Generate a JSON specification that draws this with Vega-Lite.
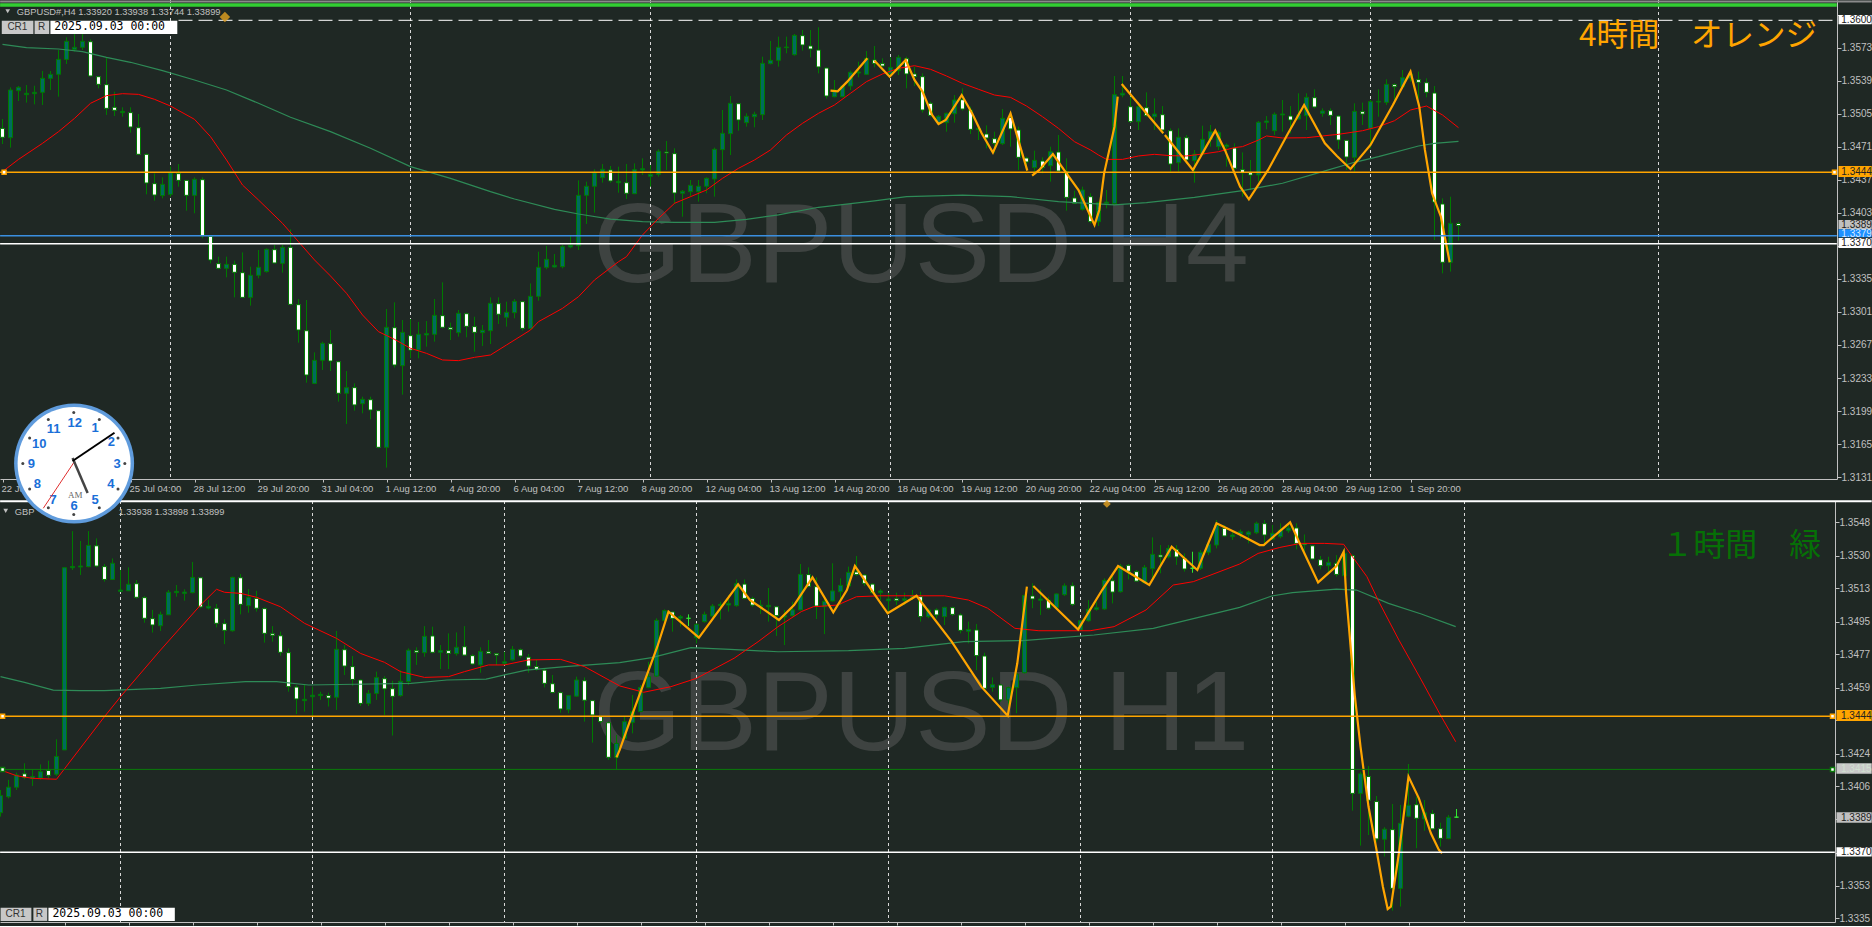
{"$schema":"https://vega.github.io/schema/vega-lite/v6.json","padding":{"left":-3,"top":-1,"right":0,"bottom":0},"background":"#1f2824","bounds":"flush","spacing":22,
"config":{"view":{"stroke":null},"axis":{"title":null,"grid":false,"domainColor":"#c0c0c0","tickColor":"#c0c0c0","labelColor":"#c0c0c0","labelFont":"Liberation Sans","labelFontSize":10,"labelOverlap":false,"labelBound":false,"labelFlush":false}},
"datasets":{
"c4":[
{"i":0,"o":1.34899,"h":1.34995,"l":1.34738,"c":1.34807},{"i":1,"o":1.34803,"h":1.35321,"l":1.34701,"c":1.35294},{"i":2,"o":1.35287,"h":1.35335,"l":1.35181,"c":1.35321},{"i":3,"o":1.35246,"h":1.35345,"l":1.35164,"c":1.3526},{"i":4,"o":1.35256,"h":1.35338,"l":1.35146,"c":1.3527},{"i":5,"o":1.3527,"h":1.35489,"l":1.3514,"c":1.35414},{"i":6,"o":1.35414,"h":1.35489,"l":1.35294,"c":1.35455},{"i":7,"o":1.35455,"h":1.35705,"l":1.35225,"c":1.35609},{"i":8,"o":1.35609,"h":1.35836,"l":1.35561,"c":1.35795},{"i":9,"o":1.35712,"h":1.35877,"l":1.35688,"c":1.35733},{"i":10,"o":1.35733,"h":1.35894,"l":1.35705,"c":1.35795},
{"i":11,"o":1.35791,"h":1.35815,"l":1.35431,"c":1.35438},{"i":12,"o":1.35431,"h":1.35431,"l":1.35311,"c":1.35352},{"i":13,"o":1.35349,"h":1.3563,"l":1.35037,"c":1.35105},{"i":14,"o":1.35116,"h":1.35277,"l":1.35026,"c":1.35085},{"i":15,"o":1.35061,"h":1.35116,"l":1.35019,"c":1.35074},{"i":16,"o":1.35061,"h":1.35116,"l":1.34855,"c":1.34913},{"i":17,"o":1.34906,"h":1.35047,"l":1.34625,"c":1.34632},{"i":18,"o":1.34632,"h":1.34642,"l":1.3422,"c":1.34337},{"i":19,"o":1.3433,"h":1.34436,"l":1.34155,"c":1.34213},{"i":20,"o":1.34207,"h":1.34395,"l":1.34179,"c":1.34323},
{"i":21,"o":1.3422,"h":1.34505,"l":1.34196,"c":1.34443},{"i":22,"o":1.34433,"h":1.34532,"l":1.34299,"c":1.34364},{"i":23,"o":1.34364,"h":1.34364,"l":1.34052,"c":1.3421},{"i":24,"o":1.3421,"h":1.34395,"l":1.34025,"c":1.34375},{"i":25,"o":1.34371,"h":1.34395,"l":1.33768,"c":1.33795},{"i":26,"o":1.33788,"h":1.33795,"l":1.3351,"c":1.33545},{"i":27,"o":1.33507,"h":1.33579,"l":1.33449,"c":1.33459},{"i":28,"o":1.33459,"h":1.33579,"l":1.33366,"c":1.335},{"i":29,"o":1.335,"h":1.33538,"l":1.3316,"c":1.33418},{"i":30,"o":1.33414,"h":1.33623,"l":1.33157,"c":1.3316},
{"i":31,"o":1.3316,"h":1.33476,"l":1.33075,"c":1.33387},{"i":32,"o":1.33387,"h":1.33647,"l":1.33356,"c":1.33469},{"i":33,"o":1.33425,"h":1.33665,"l":1.33414,"c":1.33654},{"i":34,"o":1.33651,"h":1.33699,"l":1.3351,"c":1.33514},{"i":35,"o":1.3351,"h":1.33699,"l":1.33414,"c":1.33675},{"i":36,"o":1.33675,"h":1.3386,"l":1.33078,"c":1.33088},{"i":37,"o":1.33085,"h":1.33143,"l":1.32694,"c":1.32824},{"i":38,"o":1.32817,"h":1.33133,"l":1.32282,"c":1.32361},{"i":39,"o":1.32275,"h":1.32594,"l":1.32269,"c":1.32512},{"i":40,"o":1.32512,"h":1.32704,"l":1.32413,"c":1.32687},
{"i":41,"o":1.32684,"h":1.32824,"l":1.32402,"c":1.32505},{"i":42,"o":1.32498,"h":1.32505,"l":1.32087,"c":1.32173},{"i":43,"o":1.32173,"h":1.32402,"l":1.31857,"c":1.32231},{"i":44,"o":1.32231,"h":1.32275,"l":1.31994,"c":1.32053},{"i":45,"o":1.32066,"h":1.32138,"l":1.31967,"c":1.32111},{"i":46,"o":1.32107,"h":1.32138,"l":1.31905,"c":1.32001},{"i":47,"o":1.31994,"h":1.32001,"l":1.31607,"c":1.31617},{"i":48,"o":1.31617,"h":1.3304,"l":1.31408,"c":1.32852},{"i":49,"o":1.32848,"h":1.33109,"l":1.32437,"c":1.32464},{"i":50,"o":1.32457,"h":1.32927,"l":1.32159,"c":1.328},
{"i":51,"o":1.32766,"h":1.32937,"l":1.32533,"c":1.32618},{"i":52,"o":1.32618,"h":1.32907,"l":1.32533,"c":1.3278},{"i":53,"o":1.32773,"h":1.32917,"l":1.32653,"c":1.32787},{"i":54,"o":1.3278,"h":1.33143,"l":1.32704,"c":1.32975},{"i":55,"o":1.32972,"h":1.33315,"l":1.32841,"c":1.32852},{"i":56,"o":1.32848,"h":1.329,"l":1.32721,"c":1.32831},{"i":57,"o":1.32797,"h":1.3303,"l":1.32756,"c":1.32996},{"i":58,"o":1.32992,"h":1.33003,"l":1.32749,"c":1.32862},{"i":59,"o":1.32859,"h":1.32961,"l":1.32601,"c":1.328},{"i":60,"o":1.32797,"h":1.32876,"l":1.3266,"c":1.32821},
{"i":61,"o":1.32817,"h":1.3316,"l":1.3268,"c":1.33099},{"i":62,"o":1.33095,"h":1.3316,"l":1.32886,"c":1.32986},{"i":63,"o":1.32955,"h":1.33116,"l":1.32859,"c":1.33006},{"i":64,"o":1.33003,"h":1.33143,"l":1.32944,"c":1.33119},{"i":65,"o":1.33116,"h":1.33123,"l":1.32817,"c":1.32841},{"i":66,"o":1.32841,"h":1.33304,"l":1.32824,"c":1.33171},{"i":67,"o":1.33171,"h":1.3363,"l":1.33126,"c":1.33469},{"i":68,"o":1.33469,"h":1.33689,"l":1.33449,"c":1.33551},{"i":69,"o":1.33473,"h":1.33606,"l":1.33466,"c":1.3349},{"i":70,"o":1.33476,"h":1.33699,"l":1.33459,"c":1.33682},
{"i":71,"o":1.33678,"h":1.33792,"l":1.33665,"c":1.33696},{"i":72,"o":1.33692,"h":1.34364,"l":1.33647,"c":1.3421},{"i":73,"o":1.3421,"h":1.34351,"l":1.33915,"c":1.34303},{"i":74,"o":1.34303,"h":1.34478,"l":1.34032,"c":1.34443},{"i":75,"o":1.34392,"h":1.34532,"l":1.3434,"c":1.34478},{"i":76,"o":1.34471,"h":1.34512,"l":1.3434,"c":1.34358},{"i":77,"o":1.3434,"h":1.34505,"l":1.34237,"c":1.34354},{"i":78,"o":1.3434,"h":1.34532,"l":1.34172,"c":1.34231},{"i":79,"o":1.34227,"h":1.34539,"l":1.34224,"c":1.34474},{"i":80,"o":1.34471,"h":1.34591,"l":1.34419,"c":1.34484},
{"i":81,"o":1.34406,"h":1.34522,"l":1.34299,"c":1.34426},{"i":82,"o":1.34426,"h":1.34683,"l":1.34402,"c":1.34663},{"i":83,"o":1.34656,"h":1.34769,"l":1.34471,"c":1.34646},{"i":84,"o":1.34639,"h":1.34694,"l":1.34121,"c":1.34234},{"i":85,"o":1.34231,"h":1.34265,"l":1.3399,"c":1.34251},{"i":86,"o":1.34248,"h":1.34368,"l":1.34196,"c":1.34313},{"i":87,"o":1.34248,"h":1.34368,"l":1.34145,"c":1.34303},{"i":88,"o":1.34303,"h":1.34395,"l":1.34231,"c":1.34385},{"i":89,"o":1.34378,"h":1.34701,"l":1.34196,"c":1.34683},{"i":90,"o":1.3468,"h":1.35088,"l":1.34464,"c":1.34848},
{"i":91,"o":1.34845,"h":1.35232,"l":1.34625,"c":1.35157},{"i":92,"o":1.35153,"h":1.35157,"l":1.34875,"c":1.34985},{"i":93,"o":1.34958,"h":1.35054,"l":1.34917,"c":1.35023},{"i":94,"o":1.35019,"h":1.35071,"l":1.3491,"c":1.35044},{"i":95,"o":1.3504,"h":1.35637,"l":1.34985,"c":1.35568},{"i":96,"o":1.35565,"h":1.35798,"l":1.35558,"c":1.35599},{"i":97,"o":1.35599,"h":1.35843,"l":1.35534,"c":1.35733},{"i":98,"o":1.3573,"h":1.35843,"l":1.35671,"c":1.35736},{"i":99,"o":1.35657,"h":1.3587,"l":1.35647,"c":1.35856},{"i":100,"o":1.35853,"h":1.35911,"l":1.35699,"c":1.35757},
{"i":101,"o":1.35747,"h":1.35911,"l":1.3563,"c":1.35716},{"i":102,"o":1.35705,"h":1.35939,"l":1.35465,"c":1.35531},{"i":103,"o":1.3552,"h":1.35524,"l":1.35205,"c":1.35232},{"i":104,"o":1.35225,"h":1.35397,"l":1.35218,"c":1.35294},{"i":105,"o":1.35225,"h":1.35345,"l":1.35218,"c":1.35335},{"i":106,"o":1.35335,"h":1.35493,"l":1.35294,"c":1.35476},{"i":107,"o":1.35469,"h":1.35585,"l":1.35424,"c":1.35479},{"i":108,"o":1.35455,"h":1.35695,"l":1.35448,"c":1.3562},{"i":109,"o":1.35603,"h":1.35747,"l":1.35527,"c":1.35568},{"i":110,"o":1.35565,"h":1.3562,"l":1.35534,"c":1.35541},
{"i":111,"o":1.35459,"h":1.3563,"l":1.35424,"c":1.35527},{"i":112,"o":1.35493,"h":1.35654,"l":1.35448,"c":1.3563},{"i":113,"o":1.35616,"h":1.35637,"l":1.35311,"c":1.35459},{"i":114,"o":1.35459,"h":1.35534,"l":1.35335,"c":1.35431},{"i":115,"o":1.35431,"h":1.35465,"l":1.35061,"c":1.35088},{"i":116,"o":1.35157,"h":1.35174,"l":1.35019,"c":1.35033},{"i":117,"o":1.34958,"h":1.35037,"l":1.34934,"c":1.35023},{"i":118,"o":1.34958,"h":1.35061,"l":1.34865,"c":1.35054},{"i":119,"o":1.3505,"h":1.35242,"l":1.34958,"c":1.35191},{"i":120,"o":1.35194,"h":1.35311,"l":1.35081,"c":1.35098},
{"i":121,"o":1.35088,"h":1.35122,"l":1.34841,"c":1.34889},{"i":122,"o":1.34886,"h":1.34934,"l":1.34779,"c":1.34899},{"i":123,"o":1.34841,"h":1.3493,"l":1.34694,"c":1.348},{"i":124,"o":1.34793,"h":1.34865,"l":1.34649,"c":1.34745},{"i":125,"o":1.34742,"h":1.35098,"l":1.34728,"c":1.35002},{"i":126,"o":1.35013,"h":1.35054,"l":1.34711,"c":1.34893},{"i":127,"o":1.34882,"h":1.34917,"l":1.34471,"c":1.34601},{"i":128,"o":1.34594,"h":1.34608,"l":1.34464,"c":1.34553},{"i":129,"o":1.34495,"h":1.3467,"l":1.34443,"c":1.3457},{"i":130,"o":1.34563,"h":1.34601,"l":1.34436,"c":1.34495},
{"i":131,"o":1.34515,"h":1.34711,"l":1.34351,"c":1.34659},{"i":132,"o":1.34656,"h":1.34831,"l":1.34454,"c":1.3446},{"i":133,"o":1.34454,"h":1.34591,"l":1.34052,"c":1.34189},{"i":134,"o":1.34183,"h":1.34258,"l":1.34121,"c":1.34128},{"i":135,"o":1.34066,"h":1.34299,"l":1.34052,"c":1.34265},{"i":136,"o":1.34196,"h":1.34231,"l":1.33922,"c":1.33939},{"i":137,"o":1.33939,"h":1.34145,"l":1.33894,"c":1.34135},{"i":138,"o":1.34128,"h":1.34265,"l":1.34076,"c":1.34141},{"i":139,"o":1.34124,"h":1.35438,"l":1.34111,"c":1.35246},{"i":140,"o":1.35242,"h":1.35438,"l":1.35218,"c":1.3526},
{"i":141,"o":1.35122,"h":1.35225,"l":1.34958,"c":1.34968},{"i":142,"o":1.34968,"h":1.3514,"l":1.34882,"c":1.35122},{"i":143,"o":1.35112,"h":1.3527,"l":1.35019,"c":1.3503},{"i":144,"o":1.35019,"h":1.35208,"l":1.34882,"c":1.35047},{"i":145,"o":1.3504,"h":1.35129,"l":1.34848,"c":1.34882},{"i":146,"o":1.34875,"h":1.34899,"l":1.34454,"c":1.34532},{"i":147,"o":1.34546,"h":1.34899,"l":1.34454,"c":1.34807},{"i":148,"o":1.34803,"h":1.34831,"l":1.34539,"c":1.34574},{"i":149,"o":1.34567,"h":1.34676,"l":1.3434,"c":1.34635},{"i":150,"o":1.34632,"h":1.34927,"l":1.34625,"c":1.34786},
{"i":151,"o":1.34786,"h":1.34934,"l":1.34711,"c":1.34865},{"i":152,"o":1.34711,"h":1.34875,"l":1.34676,"c":1.34855},{"i":153,"o":1.34711,"h":1.34745,"l":1.34505,"c":1.34728},{"i":154,"o":1.34697,"h":1.34745,"l":1.34471,"c":1.34488},{"i":155,"o":1.34474,"h":1.34652,"l":1.34196,"c":1.34443},{"i":156,"o":1.34443,"h":1.34574,"l":1.34265,"c":1.34419},{"i":157,"o":1.34419,"h":1.34975,"l":1.34351,"c":1.34961},{"i":158,"o":1.34961,"h":1.35026,"l":1.34889,"c":1.34975},{"i":159,"o":1.34875,"h":1.35064,"l":1.34831,"c":1.35044},{"i":160,"o":1.35037,"h":1.35191,"l":1.34865,"c":1.35047},
{"i":161,"o":1.35026,"h":1.35129,"l":1.34848,"c":1.34985},{"i":162,"o":1.34995,"h":1.3526,"l":1.34992,"c":1.35037},{"i":163,"o":1.3503,"h":1.3526,"l":1.34882,"c":1.35218},{"i":164,"o":1.35215,"h":1.35301,"l":1.35105,"c":1.35119},{"i":165,"o":1.35054,"h":1.35105,"l":1.35019,"c":1.35078},{"i":166,"o":1.35081,"h":1.35105,"l":1.34934,"c":1.35033},{"i":167,"o":1.35026,"h":1.35037,"l":1.34687,"c":1.34779},{"i":168,"o":1.34776,"h":1.34779,"l":1.34471,"c":1.34604},{"i":169,"o":1.34601,"h":1.35157,"l":1.34454,"c":1.35074},{"i":170,"o":1.35071,"h":1.35164,"l":1.34934,"c":1.35047},
{"i":171,"o":1.34899,"h":1.35191,"l":1.34694,"c":1.35174},{"i":172,"o":1.3517,"h":1.35301,"l":1.35019,"c":1.35177},{"i":173,"o":1.35167,"h":1.35404,"l":1.3514,"c":1.35352},{"i":174,"o":1.35349,"h":1.35362,"l":1.35157,"c":1.35328},{"i":175,"o":1.35328,"h":1.355,"l":1.35311,"c":1.35421},{"i":176,"o":1.35414,"h":1.35493,"l":1.3538,"c":1.35459},{"i":177,"o":1.354,"h":1.35483,"l":1.35208,"c":1.35373},{"i":178,"o":1.35369,"h":1.35414,"l":1.35218,"c":1.3527},{"i":179,"o":1.35263,"h":1.35335,"l":1.3375,"c":1.34141},{"i":180,"o":1.34121,"h":1.34179,"l":1.33407,"c":1.33521},
{"i":181,"o":1.33521,"h":1.34196,"l":1.33425,"c":1.33922},{"i":182,"o":1.3392,"h":1.33938,"l":1.33744,"c":1.33899}
],
"c1":[
{"i":0,"o":1.33923,"h":1.34045,"l":1.33902,"c":1.34015},{"i":1,"o":1.34009,"h":1.341,"l":1.34,"c":1.3406},{"i":2,"o":1.3406,"h":1.34139,"l":1.34045,"c":1.34126},{"i":3,"o":1.34132,"h":1.34189,"l":1.34103,"c":1.34114},{"i":4,"o":1.34107,"h":1.34157,"l":1.34067,"c":1.34118},{"i":5,"o":1.34109,"h":1.34183,"l":1.341,"c":1.34144},{"i":6,"o":1.3415,"h":1.34203,"l":1.34109,"c":1.34124},{"i":7,"o":1.3413,"h":1.34318,"l":1.34121,"c":1.34225},{"i":8,"o":1.34261,"h":1.35241,"l":1.34261,"c":1.35241},{"i":9,"o":1.35241,"h":1.35438,"l":1.35229,"c":1.35248},{"i":10,"o":1.35245,"h":1.35385,"l":1.35202,"c":1.3525},
{"i":11,"o":1.35247,"h":1.35438,"l":1.35243,"c":1.35361},{"i":12,"o":1.35359,"h":1.35399,"l":1.35243,"c":1.3525},{"i":13,"o":1.35247,"h":1.35261,"l":1.35166,"c":1.35178},{"i":14,"o":1.35178,"h":1.35291,"l":1.35175,"c":1.35265},{"i":15,"o":1.35114,"h":1.35229,"l":1.35112,"c":1.35121},{"i":16,"o":1.35117,"h":1.35243,"l":1.35116,"c":1.35152},{"i":17,"o":1.35155,"h":1.35175,"l":1.35074,"c":1.35082},{"i":18,"o":1.3508,"h":1.35089,"l":1.34945,"c":1.34969},{"i":19,"o":1.34967,"h":1.35014,"l":1.34892,"c":1.34933},{"i":20,"o":1.34929,"h":1.35005,"l":1.34901,"c":1.3499},
{"i":21,"o":1.34988,"h":1.35121,"l":1.34987,"c":1.35109},{"i":22,"o":1.35107,"h":1.35148,"l":1.35085,"c":1.35114},{"i":23,"o":1.35103,"h":1.35125,"l":1.35064,"c":1.3511},{"i":24,"o":1.35107,"h":1.35272,"l":1.35103,"c":1.35189},{"i":25,"o":1.35187,"h":1.35189,"l":1.35023,"c":1.3503},{"i":26,"o":1.35024,"h":1.35067,"l":1.35017,"c":1.35033},{"i":27,"o":1.35023,"h":1.35046,"l":1.3492,"c":1.34942},{"i":28,"o":1.3494,"h":1.34963,"l":1.3483,"c":1.34904},{"i":29,"o":1.34902,"h":1.35193,"l":1.34897,"c":1.35189},{"i":30,"o":1.35187,"h":1.35207,"l":1.3499,"c":1.35044},
{"i":31,"o":1.35037,"h":1.35126,"l":1.34999,"c":1.35082},{"i":32,"o":1.35076,"h":1.35117,"l":1.35005,"c":1.35023},{"i":33,"o":1.35021,"h":1.35028,"l":1.34838,"c":1.34888},{"i":34,"o":1.34886,"h":1.34927,"l":1.34843,"c":1.34877},{"i":35,"o":1.34875,"h":1.34897,"l":1.34768,"c":1.34786},{"i":36,"o":1.34784,"h":1.34807,"l":1.34574,"c":1.34601},{"i":37,"o":1.34599,"h":1.3461,"l":1.34454,"c":1.34535},{"i":38,"o":1.34526,"h":1.34614,"l":1.34467,"c":1.34533},{"i":39,"o":1.34547,"h":1.34601,"l":1.3444,"c":1.34555},{"i":40,"o":1.34553,"h":1.34574,"l":1.3453,"c":1.3456},
{"i":41,"o":1.34553,"h":1.34569,"l":1.34494,"c":1.3454},{"i":42,"o":1.34544,"h":1.34901,"l":1.34476,"c":1.34802},{"i":43,"o":1.348,"h":1.34825,"l":1.34664,"c":1.34712},{"i":44,"o":1.34709,"h":1.34766,"l":1.34605,"c":1.3464},{"i":45,"o":1.34637,"h":1.3464,"l":1.34497,"c":1.34511},{"i":46,"o":1.34511,"h":1.34583,"l":1.34497,"c":1.34565},{"i":47,"o":1.34565,"h":1.34682,"l":1.3453,"c":1.3465},{"i":48,"o":1.34644,"h":1.34658,"l":1.34449,"c":1.34589},{"i":49,"o":1.3459,"h":1.34633,"l":1.34338,"c":1.34549},{"i":50,"o":1.34553,"h":1.3469,"l":1.34547,"c":1.3463},
{"i":51,"o":1.34628,"h":1.34807,"l":1.3461,"c":1.34797},{"i":52,"o":1.34795,"h":1.34813,"l":1.34718,"c":1.34786},{"i":53,"o":1.34784,"h":1.34927,"l":1.34762,"c":1.34872},{"i":54,"o":1.34874,"h":1.34924,"l":1.3478,"c":1.34786},{"i":55,"o":1.34786,"h":1.34825,"l":1.34696,"c":1.34795},{"i":56,"o":1.34795,"h":1.34888,"l":1.34696,"c":1.3478},{"i":57,"o":1.34779,"h":1.34893,"l":1.34768,"c":1.34813},{"i":58,"o":1.34816,"h":1.34927,"l":1.34766,"c":1.34771},{"i":59,"o":1.34768,"h":1.34777,"l":1.34718,"c":1.34723},{"i":60,"o":1.34718,"h":1.34813,"l":1.34676,"c":1.34791},
{"i":61,"o":1.34789,"h":1.34852,"l":1.34777,"c":1.3478},{"i":62,"o":1.34779,"h":1.3478,"l":1.34718,"c":1.34771},{"i":63,"o":1.34727,"h":1.34789,"l":1.34718,"c":1.34735},{"i":64,"o":1.34745,"h":1.3482,"l":1.3474,"c":1.34802},{"i":65,"o":1.348,"h":1.34807,"l":1.34754,"c":1.34766},{"i":66,"o":1.3476,"h":1.34777,"l":1.34676,"c":1.34712},{"i":67,"o":1.34709,"h":1.34745,"l":1.34687,"c":1.34694},{"i":68,"o":1.3469,"h":1.347,"l":1.34597,"c":1.34619},{"i":69,"o":1.34617,"h":1.34664,"l":1.34565,"c":1.3457},{"i":70,"o":1.34569,"h":1.34574,"l":1.34461,"c":1.34481},
{"i":71,"o":1.34477,"h":1.34556,"l":1.34458,"c":1.34553},{"i":72,"o":1.3455,"h":1.34655,"l":1.34547,"c":1.34637},{"i":73,"o":1.34633,"h":1.34651,"l":1.34413,"c":1.34528},{"i":74,"o":1.34526,"h":1.3453,"l":1.343,"c":1.34449},{"i":75,"o":1.3444,"h":1.34447,"l":1.34404,"c":1.34413},{"i":76,"o":1.34407,"h":1.34413,"l":1.34207,"c":1.34221},{"i":77,"o":1.34221,"h":1.34341,"l":1.34157,"c":1.34296},{"i":78,"o":1.34323,"h":1.3444,"l":1.34314,"c":1.34413},{"i":79,"o":1.34409,"h":1.34556,"l":1.3435,"c":1.34467},{"i":80,"o":1.34467,"h":1.3461,"l":1.34467,"c":1.34597},
{"i":81,"o":1.34597,"h":1.34735,"l":1.34592,"c":1.34655},{"i":82,"o":1.34658,"h":1.34969,"l":1.34655,"c":1.34958},{"i":83,"o":1.34956,"h":1.35017,"l":1.34953,"c":1.3501},{"i":84,"o":1.35003,"h":1.35005,"l":1.34897,"c":1.34969},{"i":85,"o":1.3497,"h":1.34987,"l":1.34924,"c":1.34978},{"i":86,"o":1.34969,"h":1.3499,"l":1.34927,"c":1.34969},{"i":87,"o":1.34865,"h":1.34942,"l":1.34834,"c":1.34936},{"i":88,"o":1.34951,"h":1.35005,"l":1.34945,"c":1.3499},{"i":89,"o":1.34981,"h":1.35046,"l":1.34978,"c":1.35035},{"i":90,"o":1.35037,"h":1.35058,"l":1.34963,"c":1.35044},
{"i":91,"o":1.3504,"h":1.35094,"l":1.35005,"c":1.35049},{"i":92,"o":1.35037,"h":1.35178,"l":1.35031,"c":1.35155},{"i":93,"o":1.35153,"h":1.35178,"l":1.35071,"c":1.35076},{"i":94,"o":1.35076,"h":1.35085,"l":1.35031,"c":1.3504},{"i":95,"o":1.35033,"h":1.35067,"l":1.34992,"c":1.3504},{"i":96,"o":1.35031,"h":1.35132,"l":1.34951,"c":1.35039},{"i":97,"o":1.35031,"h":1.35035,"l":1.34874,"c":1.34983},{"i":98,"o":1.34976,"h":1.35014,"l":1.34825,"c":1.34983},{"i":99,"o":1.34983,"h":1.35058,"l":1.34978,"c":1.35014},{"i":100,"o":1.35014,"h":1.35261,"l":1.3501,"c":1.35205},
{"i":101,"o":1.35204,"h":1.35243,"l":1.35135,"c":1.35141},{"i":102,"o":1.35139,"h":1.35189,"l":1.34965,"c":1.35035},{"i":103,"o":1.35031,"h":1.35085,"l":1.34884,"c":1.3506},{"i":104,"o":1.35062,"h":1.35265,"l":1.35058,"c":1.35116},{"i":105,"o":1.35112,"h":1.35184,"l":1.3504,"c":1.35146},{"i":106,"o":1.35143,"h":1.35247,"l":1.35135,"c":1.35216},{"i":107,"o":1.35218,"h":1.35304,"l":1.35196,"c":1.35204},{"i":108,"o":1.35202,"h":1.35207,"l":1.35143,"c":1.35157},{"i":109,"o":1.35153,"h":1.35157,"l":1.351,"c":1.35107},{"i":110,"o":1.35107,"h":1.35125,"l":1.35067,"c":1.35116},
{"i":111,"o":1.35064,"h":1.35107,"l":1.34992,"c":1.35073},{"i":112,"o":1.35074,"h":1.35107,"l":1.3504,"c":1.35064},{"i":113,"o":1.35066,"h":1.35107,"l":1.3504,"c":1.35074},{"i":114,"o":1.35082,"h":1.35121,"l":1.35067,"c":1.35092},{"i":115,"o":1.35085,"h":1.35112,"l":1.34951,"c":1.34978},{"i":116,"o":1.34978,"h":1.35023,"l":1.34969,"c":1.35014},{"i":117,"o":1.35014,"h":1.35023,"l":1.34969,"c":1.34987},{"i":118,"o":1.34978,"h":1.35031,"l":1.34933,"c":1.35028},{"i":119,"o":1.35026,"h":1.35031,"l":1.34981,"c":1.3499},{"i":120,"o":1.34987,"h":1.34996,"l":1.34888,"c":1.34904},
{"i":121,"o":1.34899,"h":1.34951,"l":1.34834,"c":1.34909},{"i":122,"o":1.34906,"h":1.34938,"l":1.3469,"c":1.34768},{"i":123,"o":1.34766,"h":1.34784,"l":1.34583,"c":1.34592},{"i":124,"o":1.34597,"h":1.34651,"l":1.34574,"c":1.34612},{"i":125,"o":1.3461,"h":1.34615,"l":1.3452,"c":1.3453},{"i":126,"o":1.3453,"h":1.34601,"l":1.3444,"c":1.34596},{"i":127,"o":1.34596,"h":1.34718,"l":1.34458,"c":1.34669},{"i":128,"o":1.34676,"h":1.35094,"l":1.34673,"c":1.35092},{"i":129,"o":1.35089,"h":1.35157,"l":1.35023,"c":1.35073},{"i":130,"o":1.35066,"h":1.35125,"l":1.34987,"c":1.35073},
{"i":131,"o":1.35067,"h":1.35085,"l":1.35014,"c":1.35023},{"i":132,"o":1.35026,"h":1.35103,"l":1.35023,"c":1.351},{"i":133,"o":1.35096,"h":1.35157,"l":1.35089,"c":1.35144},{"i":134,"o":1.35144,"h":1.35162,"l":1.35035,"c":1.35044},{"i":135,"o":1.34906,"h":1.3496,"l":1.34906,"c":1.34956},{"i":136,"o":1.34956,"h":1.35067,"l":1.34951,"c":1.35017},{"i":137,"o":1.35017,"h":1.35058,"l":1.3501,"c":1.35026},{"i":138,"o":1.35019,"h":1.35184,"l":1.35014,"c":1.35173},{"i":139,"o":1.35171,"h":1.35202,"l":1.35049,"c":1.3511},{"i":140,"o":1.35112,"h":1.35261,"l":1.35107,"c":1.3525},
{"i":141,"o":1.35254,"h":1.35261,"l":1.35178,"c":1.35222},{"i":142,"o":1.3522,"h":1.35229,"l":1.35166,"c":1.35169},{"i":143,"o":1.3516,"h":1.35256,"l":1.35157,"c":1.35243},{"i":144,"o":1.35236,"h":1.35404,"l":1.35184,"c":1.35313},{"i":145,"o":1.35309,"h":1.35363,"l":1.35211,"c":1.35299},{"i":146,"o":1.353,"h":1.35363,"l":1.35291,"c":1.35345},{"i":147,"o":1.3534,"h":1.35363,"l":1.35256,"c":1.35299},{"i":148,"o":1.35291,"h":1.35318,"l":1.3522,"c":1.35234},{"i":149,"o":1.35238,"h":1.35327,"l":1.35214,"c":1.35238},{"i":150,"o":1.35238,"h":1.35336,"l":1.35229,"c":1.35324},
{"i":151,"o":1.35324,"h":1.35381,"l":1.35309,"c":1.35367},{"i":152,"o":1.35363,"h":1.35498,"l":1.35345,"c":1.35471},{"i":153,"o":1.35453,"h":1.35471,"l":1.35408,"c":1.35412},{"i":154,"o":1.35408,"h":1.35444,"l":1.3539,"c":1.35417},{"i":155,"o":1.35422,"h":1.35447,"l":1.35399,"c":1.35435},{"i":156,"o":1.35419,"h":1.3544,"l":1.35372,"c":1.35433},{"i":157,"o":1.35429,"h":1.35489,"l":1.35422,"c":1.3548},{"i":158,"o":1.35478,"h":1.35498,"l":1.35358,"c":1.35417},{"i":159,"o":1.35395,"h":1.35471,"l":1.3539,"c":1.35426},{"i":160,"o":1.35408,"h":1.3548,"l":1.35399,"c":1.35444},
{"i":161,"o":1.3544,"h":1.3548,"l":1.35429,"c":1.35455},{"i":162,"o":1.35455,"h":1.3548,"l":1.3534,"c":1.35372},{"i":163,"o":1.35372,"h":1.3542,"l":1.35327,"c":1.35365},{"i":164,"o":1.35359,"h":1.35363,"l":1.35282,"c":1.35288},{"i":165,"o":1.35284,"h":1.35304,"l":1.35232,"c":1.35252},{"i":166,"o":1.35252,"h":1.353,"l":1.35214,"c":1.3527},{"i":167,"o":1.35265,"h":1.35309,"l":1.35193,"c":1.35205},{"i":168,"o":1.35198,"h":1.3534,"l":1.35193,"c":1.35318},{"i":169,"o":1.35306,"h":1.35313,"l":1.33934,"c":1.34027},{"i":170,"o":1.34027,"h":1.34144,"l":1.33746,"c":1.34132},
{"i":171,"o":1.34118,"h":1.34174,"l":1.33803,"c":1.3399},{"i":172,"o":1.33983,"h":1.34013,"l":1.33767,"c":1.33782},{"i":173,"o":1.3378,"h":1.33845,"l":1.33687,"c":1.33834},{"i":174,"o":1.33832,"h":1.3397,"l":1.33396,"c":1.33516},{"i":175,"o":1.33516,"h":1.33965,"l":1.33418,"c":1.33866},{"i":176,"o":1.33904,"h":1.34185,"l":1.33898,"c":1.33963},{"i":177,"o":1.33966,"h":1.34009,"l":1.33732,"c":1.33893},{"i":178,"o":1.33889,"h":1.33991,"l":1.33826,"c":1.33923},{"i":179,"o":1.33918,"h":1.33938,"l":1.3383,"c":1.33836},{"i":180,"o":1.33837,"h":1.33869,"l":1.33741,"c":1.33785},
{"i":181,"o":1.33784,"h":1.33911,"l":1.3378,"c":1.33898},{"i":182,"o":1.33899,"h":1.33943,"l":1.33895,"c":1.33899}
],
"ma4r":[{"i":0,"p":1.34454},{"i":2,"p":1.3458},{"i":5,"p":1.34745},{"i":7,"p":1.34865},{"i":9,"p":1.35002},{"i":11,"p":1.35157},{"i":13,"p":1.35236},{"i":15,"p":1.35256},{"i":17,"p":1.35249},{"i":19,"p":1.35198},{"i":21,"p":1.35129},{"i":24,"p":1.34992},{"i":26,"p":1.34814},{"i":28,"p":1.34574},{"i":30,"p":1.34316},{"i":32,"p":1.34162},{"i":35,"p":1.33922},{"i":37,"p":1.33733},{"i":39,"p":1.33545},{"i":41,"p":1.3338},{"i":43,"p":1.33202},{"i":45,"p":1.32979},{"i":47,"p":1.32807},{"i":49,"p":1.32728},{"i":51,"p":1.32636},{"i":53,"p":1.32584},{"i":55,"p":1.32516},{"i":57,"p":1.32509},{"i":59,"p":1.32543},{"i":61,"p":1.32567},{"i":63,"p":1.3267},{"i":66,"p":1.32824},{"i":67,"p":1.3291},{"i":70,"p":1.33047},{"i":72,"p":1.33167},{"i":74,"p":1.33339},{"i":77,"p":1.33527},{"i":78,"p":1.33579},{"i":80,"p":1.33802},{"i":82,"p":1.33973},{"i":84,"p":1.34128},{"i":86,"p":1.34196},{"i":88,"p":1.34265},{"i":90,"p":1.34385},{"i":92,"p":1.34488},{"i":94,"p":1.34574},{"i":96,"p":1.34677},{"i":98,"p":1.34831},{"i":100,"p":1.34951},{"i":102,"p":1.35054},{"i":104,"p":1.3514},{"i":106,"p":1.3526},{"i":108,"p":1.3538},{"i":110,"p":1.35459},{"i":112,"p":1.35517},{"i":114,"p":1.35544},{"i":116,"p":1.35507},{"i":118,"p":1.35438},{"i":120,"p":1.35362},{"i":122,"p":1.35301},{"i":124,"p":1.35242},{"i":126,"p":1.35218},{"i":128,"p":1.35129},{"i":130,"p":1.35019},{"i":132,"p":1.34899},{"i":134,"p":1.34762},{"i":136,"p":1.34677},{"i":137,"p":1.34625},{"i":138,"p":1.3458},{"i":140,"p":1.3458},{"i":142,"p":1.34615},{"i":144,"p":1.34632},{"i":146,"p":1.34618},{"i":148,"p":1.34615},{"i":150,"p":1.34635},{"i":152,"p":1.34659},{"i":154,"p":1.34701},{"i":155,"p":1.34711},{"i":157,"p":1.34779},{"i":158,"p":1.34821},{"i":160,"p":1.348},{"i":163,"p":1.34803},{"i":165,"p":1.34821},{"i":167,"p":1.34838},{"i":170,"p":1.34875},{"i":172,"p":1.34917},{"i":174,"p":1.34978},{"i":176,"p":1.35088},{"i":178,"p":1.35129},{"i":180,"p":1.35037},{"i":182,"p":1.34906}],
"ma4g":[{"i":0,"p":1.35764},{"i":3,"p":1.3573},{"i":7,"p":1.35716},{"i":10,"p":1.35688},{"i":13,"p":1.3563},{"i":16,"p":1.35579},{"i":20,"p":1.35493},{"i":24,"p":1.35397},{"i":28,"p":1.35294},{"i":32,"p":1.35157},{"i":36,"p":1.35013},{"i":41,"p":1.34865},{"i":46,"p":1.34694},{"i":51,"p":1.34505},{"i":56,"p":1.34385},{"i":61,"p":1.34248},{"i":64,"p":1.34172},{"i":69,"p":1.34066},{"i":72,"p":1.34018},{"i":76,"p":1.33966},{"i":80,"p":1.33939},{"i":84,"p":1.33932},{"i":89,"p":1.33932},{"i":93,"p":1.33963},{"i":97,"p":1.34008},{"i":102,"p":1.34087},{"i":109,"p":1.34152},{"i":113,"p":1.34196},{"i":120,"p":1.34213},{"i":126,"p":1.34196},{"i":132,"p":1.34145},{"i":139,"p":1.34111},{"i":143,"p":1.34135},{"i":149,"p":1.34189},{"i":155,"p":1.34258},{"i":160,"p":1.34334},{"i":165,"p":1.34454},{"i":169,"p":1.3455},{"i":172,"p":1.34608},{"i":177,"p":1.34718},{"i":179,"p":1.34745},{"i":182,"p":1.34766}],
"zz4":[{"s":1,"i":103.5,"p":1.35287},{"s":1,"i":104.4,"p":1.3528},{"s":1,"i":105.6,"p":1.3538},{"s":1,"i":108.1,"p":1.3562},{"s":2,"i":109,"p":1.35596},{"s":2,"i":110.9,"p":1.35431},{"s":2,"i":112.9,"p":1.35603},{"s":2,"i":114,"p":1.35397},{"s":2,"i":115,"p":1.35277},{"s":2,"i":116.2,"p":1.35037},{"s":2,"i":117,"p":1.34944},{"s":2,"i":117.9,"p":1.34985},{"s":2,"i":119.9,"p":1.35242},{"s":2,"i":121.2,"p":1.35054},{"s":2,"i":122.4,"p":1.34848},{"s":2,"i":123.8,"p":1.34649},{"s":2,"i":126,"p":1.35054},{"s":2,"i":127.1,"p":1.34745},{"s":2,"i":128.1,"p":1.34464},{"s":3,"i":128.7,"p":1.34412},{"s":3,"i":129.6,"p":1.34471},{"s":3,"i":131.3,"p":1.34635},{"s":3,"i":133,"p":1.34436},{"s":3,"i":134.5,"p":1.34265},{"s":3,"i":136.5,"p":1.33905},{"s":3,"i":137.1,"p":1.34059},{"s":3,"i":137.7,"p":1.34436},{"s":3,"i":139,"p":1.34917},{"s":3,"i":139.4,"p":1.35225},{"s":4,"i":139.9,"p":1.35356},{"s":4,"i":145.1,"p":1.34848},{"s":5,"i":145.3,"p":1.34831},{"s":5,"i":148.8,"p":1.34471},{"s":5,"i":151.6,"p":1.34875},{"s":5,"i":152.8,"p":1.34677},{"s":5,"i":154.7,"p":1.34299},{"s":5,"i":155.8,"p":1.34169},{"s":5,"i":158.2,"p":1.34471},{"s":5,"i":160.7,"p":1.34848},{"s":5,"i":162.7,"p":1.3514},{"s":5,"i":165.3,"p":1.34745},{"s":5,"i":166.8,"p":1.34615},{"s":5,"i":168.5,"p":1.34481},{"s":5,"i":171,"p":1.34728},{"s":5,"i":173.8,"p":1.3514},{"s":5,"i":176,"p":1.35483},{"s":5,"i":177.1,"p":1.35122},{"s":5,"i":177.8,"p":1.34677},{"s":5,"i":178.7,"p":1.34231},{"s":5,"i":179.8,"p":1.3399},{"s":5,"i":180.9,"p":1.33521}],
"ma1r":[{"i":0,"p":1.34153},{"i":2,"p":1.34122},{"i":4,"p":1.34108},{"i":7,"p":1.34103},{"i":13,"p":1.3444},{"i":15,"p":1.34547},{"i":20,"p":1.34798},{"i":25,"p":1.3504},{"i":27,"p":1.35125},{"i":28,"p":1.35109},{"i":30,"p":1.35103},{"i":32,"p":1.35082},{"i":35,"p":1.35031},{"i":38,"p":1.34942},{"i":42,"p":1.34861},{"i":45,"p":1.3478},{"i":48,"p":1.34732},{"i":50,"p":1.34682},{"i":53,"p":1.34651},{"i":56,"p":1.34655},{"i":58,"p":1.34682},{"i":61,"p":1.34718},{"i":63,"p":1.34718},{"i":66,"p":1.34745},{"i":70,"p":1.34748},{"i":73,"p":1.34709},{"i":77.4,"p":1.34605},{"i":80.4,"p":1.34571},{"i":83.8,"p":1.34601},{"i":87,"p":1.34646},{"i":91.7,"p":1.34754},{"i":94.7,"p":1.34843},{"i":97.2,"p":1.34924},{"i":100.1,"p":1.35005},{"i":101.6,"p":1.35031},{"i":104.6,"p":1.3504},{"i":107,"p":1.35085},{"i":110,"p":1.3509},{"i":118,"p":1.3509},{"i":121,"p":1.35067},{"i":123.4,"p":1.35023},{"i":126.8,"p":1.34915},{"i":129.8,"p":1.34902},{"i":136.2,"p":1.34902},{"i":139.2,"p":1.34924},{"i":143.2,"p":1.35014},{"i":146.6,"p":1.35148},{"i":149.1,"p":1.35166},{"i":154.9,"p":1.35261},{"i":157.2,"p":1.35318},{"i":159.9,"p":1.3535},{"i":162.5,"p":1.35372},{"i":165.5,"p":1.35372},{"i":167.9,"p":1.35367},{"i":169,"p":1.353},{"i":170.8,"p":1.35193},{"i":172.3,"p":1.35058},{"i":174.8,"p":1.34852},{"i":177.6,"p":1.34637},{"i":180.1,"p":1.3444},{"i":181.9,"p":1.34305}],
"ma1g":[{"i":0,"p":1.34655},{"i":3,"p":1.34624},{"i":6.6,"p":1.34583},{"i":10,"p":1.3458},{"i":13,"p":1.3458},{"i":20,"p":1.34592},{"i":24.6,"p":1.3461},{"i":30.6,"p":1.34628},{"i":34.5,"p":1.34628},{"i":38.5,"p":1.3461},{"i":44.4,"p":1.34614},{"i":51.3,"p":1.34619},{"i":55.8,"p":1.34637},{"i":60.7,"p":1.34642},{"i":65.7,"p":1.3469},{"i":70.6,"p":1.34709},{"i":77.4,"p":1.3473},{"i":81.4,"p":1.34757},{"i":86.3,"p":1.34811},{"i":91.2,"p":1.34802},{"i":97.2,"p":1.34789},{"i":106,"p":1.34795},{"i":113,"p":1.34807},{"i":120.4,"p":1.34843},{"i":127.8,"p":1.34849},{"i":136.7,"p":1.34879},{"i":144.1,"p":1.34915},{"i":154.9,"p":1.35028},{"i":158.9,"p":1.35089},{"i":161.5,"p":1.35107},{"i":167,"p":1.35126},{"i":169.5,"p":1.35121},{"i":173.5,"p":1.35049},{"i":177.6,"p":1.34992},{"i":181.9,"p":1.34924}],
"zz1":[{"s":1,"i":77,"p":1.34221},{"s":1,"i":77.4,"p":1.34261},{"s":1,"i":79.1,"p":1.34467},{"s":1,"i":82.1,"p":1.34816},{"s":1,"i":83.5,"p":1.35005},{"s":1,"i":87.3,"p":1.34865},{"s":1,"i":92.2,"p":1.35152},{"s":1,"i":93.7,"p":1.35067},{"s":1,"i":97.3,"p":1.3496},{"s":1,"i":99.2,"p":1.3504},{"s":1,"i":101.5,"p":1.35189},{"s":1,"i":104.1,"p":1.35001},{"s":1,"i":105.8,"p":1.35121},{"s":1,"i":106.8,"p":1.3525},{"s":1,"i":110.9,"p":1.34996},{"s":1,"i":114.5,"p":1.3509},{"s":1,"i":118.9,"p":1.34843},{"s":1,"i":122.6,"p":1.34601},{"s":1,"i":125.9,"p":1.34445},{"s":1,"i":127.1,"p":1.34727},{"s":1,"i":128.3,"p":1.35139},{"s":2,"i":129.1,"p":1.35143},{"s":2,"i":134.7,"p":1.34909},{"s":2,"i":137.7,"p":1.35121},{"s":2,"i":139.7,"p":1.3525},{"s":2,"i":143.6,"p":1.35148},{"s":2,"i":146.4,"p":1.35354},{"s":2,"i":149.6,"p":1.35229},{"s":2,"i":152,"p":1.3548},{"s":2,"i":154.9,"p":1.3542},{"s":2,"i":157.4,"p":1.35363},{"s":2,"i":157.9,"p":1.35363},{"s":2,"i":161.2,"p":1.35485},{"s":2,"i":162.5,"p":1.35363},{"s":2,"i":164.7,"p":1.35162},{"s":2,"i":167,"p":1.3525},{"s":2,"i":167.9,"p":1.35327},{"s":2,"i":168.2,"p":1.35103},{"s":2,"i":168.8,"p":1.34798},{"s":2,"i":169.3,"p":1.34547},{"s":2,"i":170,"p":1.34278},{"s":2,"i":171,"p":1.33956},{"s":2,"i":172,"p":1.33723},{"s":2,"i":172.8,"p":1.33525},{"s":2,"i":173.4,"p":1.33405},{"s":2,"i":173.8,"p":1.33418},{"s":2,"i":174.8,"p":1.33705},{"s":2,"i":176,"p":1.34117},{"s":2,"i":177.3,"p":1.34},{"s":2,"i":178.8,"p":1.33812},{"s":2,"i":179.8,"p":1.33723},{"s":2,"i":180.2,"p":1.33705}]
},
"vconcat":[
{"width":1837,"height":479,
"encoding":{"x":{"field":"i","type":"quantitative","scale":{"domain":[-0.3125,229.3125],"nice":false,"zero":false,"padding":0},
"axis":{"values":[0,16,24,32,40,48,56,64,72,80,88,96,104,112,120,128,136,144,152,160,168,176],"labelExpr":"{'0':'22 Jul','16':'25 Jul 04:00','24':'28 Jul 12:00','32':'29 Jul 20:00','40':'31 Jul 04:00','48':'1 Aug 12:00','56':'4 Aug 20:00','64':'6 Aug 04:00','72':'7 Aug 12:00','80':'8 Aug 20:00','88':'12 Aug 04:00','96':'13 Aug 12:00','104':'14 Aug 20:00','112':'18 Aug 04:00','120':'19 Aug 12:00','128':'20 Aug 20:00','136':'22 Aug 04:00','144':'25 Aug 12:00','152':'26 Aug 20:00','160':'28 Aug 04:00','168':'29 Aug 12:00','176':'1 Sep 20:00'}[datum.value]","labelAlign":"left","labelBaseline":"top","labelFontSize":9.5,"tickSize":3,"labelPadding":1,"labelOffset":-1.5,"labelAngle":0,"orient":"bottom"}},
"y":{"field":"p","type":"quantitative","scale":{"domain":[1.31291,1.3622],"nice":false,"zero":false},
"axis":{"orient":"right","values":[1.3607,1.3573,1.3539,1.3505,1.3471,1.3437,1.3403,1.3369,1.3335,1.3301,1.3267,1.3233,1.3199,1.3165,1.3131],"labelExpr":"indexof([1.3607,1.3369],datum.value)>=0?'':substring(format(datum.value,'.5f'),0,6)","tickSize":4,"labelPadding":0}}},
"layer":[
{"data":{"values":[{"i":73.8,"p":1.33318,"t":"GBPUSD H4"}]},"mark":{"type":"text","font":"Liberation Sans","fontSize":113.5,"align":"left","baseline":"alphabetic","color":"#3e4341"},"encoding":{"text":{"field":"t"}}},
{"data":{"values":[{"i":21},{"i":51},{"i":81},{"i":111},{"i":141},{"i":171},{"i":207}]},"mark":{"type":"rule","color":"#d8d8d8","strokeWidth":1,"strokeDash":[3,3]},"encoding":{"y":null}},
{"data":{"name":"c4"},"mark":{"type":"rule","strokeWidth":1},"encoding":{"y":{"field":"h","type":"quantitative","scale":{"domain":[1.31291,1.3622],"nice":false,"zero":false}},"y2":{"field":"l"},"color":{"condition":{"test":"datum.o==datum.c","value":"#32e632"},"value":"#007a00"}}},
{"data":{"name":"c4"},"mark":{"type":"bar","size":4,"stroke":"#007a00","strokeWidth":1,"orient":"vertical"},"encoding":{"y":{"field":"o","type":"quantitative","scale":{"domain":[1.31291,1.3622],"nice":false,"zero":false}},"y2":{"field":"c"},"color":{"condition":{"test":"datum.c>datum.o","value":"#006b5e"},"value":"#ffffff"}}},
{"data":{"name":"ma4g"},"mark":{"type":"line","color":"#2e8b57","strokeWidth":1.2}},
{"data":{"name":"ma4r"},"mark":{"type":"line","color":"#ff0000","strokeWidth":1}},
{"data":{"name":"zz4"},"mark":{"type":"line","color":"#ffa500","strokeWidth":2.2},"encoding":{"detail":{"field":"s"}}},
{"data":{"values":[{"i":-0.3,"i2":229.29,"p":1.34447,"n":"orange"},{"i":-0.3,"i2":229.29,"p":1.33795,"n":"blue"},{"i":-0.3,"i2":229.29,"p":1.33713,"n":"white"}]},"mark":{"type":"rule","strokeWidth":1.5},"encoding":{"x2":{"field":"i2"},"stroke":{"field":"n","type":"nominal","legend":null,"scale":{"domain":["orange","blue","white"],"range":["#ffa500","#3a8fe0","#ffffff"]}}}},
{"data":{"values":[{"i":22,"i2":229.29,"p":1.36011}]},"mark":{"type":"rule","color":"#ffffff","strokeWidth":1,"strokeDash":[14,6]},"encoding":{"x2":{"field":"i2"}}},
{"data":{"values":[{"i":-0.3,"i2":229.29,"p":1.36169}]},"mark":{"type":"rule","color":"#32cd32","strokeWidth":3.5},"encoding":{"x2":{"field":"i2"}}},
{"data":{"values":[{"i":-0.3,"i2":233.65,"p":1.36205}]},"mark":{"type":"rule","color":"#8a8a8a","strokeWidth":2},"encoding":{"x2":{"field":"i2"}}},
{"data":{"values":[{"i":0.2,"p":1.34447},{"i":229,"p":1.34447}]},"mark":{"type":"point","shape":"square","size":16,"filled":true,"fill":"#ffffff","stroke":"#ffa500","strokeWidth":1.5,"opacity":1}},
{"data":{"values":[{"i":27.8,"p":1.36045}]},"mark":{"type":"point","shape":"diamond","size":110,"filled":true,"color":"#d99a20","opacity":0.85}},
{"data":{"values":[{"i":0.65,"p":1.36105}]},"mark":{"type":"point","shape":"triangle-down","size":22,"filled":true,"color":"#c0c0c0","opacity":1}},
{"data":{"values":[{"i":1.79,"p":1.361,"t":"GBPUSD#,H4  1.33920 1.33938 1.33744 1.33899"}]},"mark":{"type":"text","font":"Liberation Sans","fontSize":9.3,"align":"left","baseline":"middle","color":"#c0c0c0"},"encoding":{"text":{"field":"t"}}},
{"data":{"values":[{"i":-0.09,"i2":3.86,"p":1.36007,"p2":1.3587,"n":"btn"},{"i":4.01,"i2":5.84,"p":1.36007,"p2":1.3587,"n":"btn"},{"i":5.99,"i2":21.85,"p":1.36007,"p2":1.3587,"n":"field"}]},"mark":{"type":"rect"},"encoding":{"x2":{"field":"i2"},"y2":{"field":"p2"},"fill":{"field":"n","type":"nominal","legend":null,"scale":{"domain":["btn","field","white","orange","gray","blue"],"range":["#c8c8c8","#ffffff","#ffffff","#ffa500","#c0c0c0","#1e90ff"]}}}},
{"data":{"values":[{"i":1.86,"p":1.35939,"t":"CR1"},{"i":4.9,"p":1.35939,"t":"R"}]},"mark":{"type":"text","font":"Liberation Sans","fontSize":10,"align":"center","baseline":"middle","color":"#333333"},"encoding":{"text":{"field":"t"}}},
{"data":{"values":[{"i":6.47,"p":1.35939,"t":"2025.09.03 00:00"}]},"mark":{"type":"text","font":"DejaVu Sans Mono","fontSize":11.5,"align":"left","baseline":"middle","color":"#000000"},"encoding":{"text":{"field":"t"}}},
{"data":{"values":[{"i":229.5,"i2":233.65,"p":1.36066,"p2":1.3597,"n":"white"},{"i":229.5,"i2":233.65,"p":1.34512,"p2":1.34399,"n":"orange"},{"i":229.5,"i2":233.65,"p":1.33956,"p2":1.3386,"n":"gray"},{"i":229.5,"i2":233.65,"p":1.3386,"p2":1.33778,"n":"blue"},{"i":229.5,"i2":233.65,"p":1.33771,"p2":1.33668,"n":"white"}]},"mark":{"type":"rect"},"encoding":{"x2":{"field":"i2"},"y2":{"field":"p2"},"fill":{"field":"n","type":"nominal","legend":null,"scale":{"domain":["btn","field","white","orange","gray","blue"],"range":["#c8c8c8","#ffffff","#ffffff","#ffa500","#c0c0c0","#1e90ff"]}}}},
{"data":{"values":[{"i":229.85,"p":1.36018,"t":"1.3600"},{"i":229.85,"p":1.34447,"t":"1.3444"},{"i":229.85,"p":1.33905,"t":"1.3389"},{"i":229.85,"p":1.33719,"t":"1.3370"}]},"mark":{"type":"text","font":"Liberation Sans","fontSize":10,"align":"left","baseline":"middle","color":"#222222"},"encoding":{"text":{"field":"t"}}},
{"data":{"values":[{"i":229.85,"p":1.33812,"t":"1.3379"}]},"mark":{"type":"text","font":"Liberation Sans","fontSize":10,"align":"left","baseline":"middle","color":"#d8e8ff"},"encoding":{"text":{"field":"t"}}},
{"data":{"values":[{"i":226.8,"p":1.35839,"t":"4時間　オレンジ"}]},"mark":{"type":"text","font":"Noto Sans CJK JP","fontSize":31.5,"align":"right","baseline":"middle","color":"#ffa500"},"encoding":{"text":{"field":"t"}}}
]},
{"width":1835,"height":421,
"encoding":{"x":{"field":"i","type":"quantitative","scale":{"domain":[-0.0625,229.3125],"nice":false,"zero":false,"padding":0},
"axis":{"values":[8,16,24,32,40,48,56,64,72,80,88,96,104,112,120,128,136,144,152,160,168,176],"labels":false,"tickSize":3,"orient":"bottom"}},
"y":{"field":"p","type":"quantitative","scale":{"domain":[1.33335,1.356],"nice":false,"zero":false},
"axis":{"orient":"right","values":[1.35485,1.35305,1.3513,1.3495,1.34775,1.34595,1.3442,1.3424,1.34065,1.3389,1.33705,1.3353,1.33355],"labelExpr":"indexof([1.3442,1.3389,1.33705],datum.value)>=0?'':substring(format(datum.value,'.5f'),0,6)","tickSize":4,"labelPadding":0}}},
"layer":[
{"data":{"values":[{"i":74.1,"p":1.34261,"t":"GBPUSD H1"}]},"mark":{"type":"text","font":"Liberation Sans","fontSize":113.5,"align":"left","baseline":"alphabetic","color":"#3e4341"},"encoding":{"text":{"field":"t"}}},
{"data":{"values":[{"i":15},{"i":39},{"i":63},{"i":87},{"i":111},{"i":135},{"i":159},{"i":183}]},"mark":{"type":"rule","color":"#d8d8d8","strokeWidth":1,"strokeDash":[3,3]},"encoding":{"y":null}},
{"data":{"name":"c1"},"mark":{"type":"rule","strokeWidth":1},"encoding":{"y":{"field":"h","type":"quantitative","scale":{"domain":[1.33335,1.356],"nice":false,"zero":false}},"y2":{"field":"l"},"color":{"condition":{"test":"datum.o==datum.c","value":"#32e632"},"value":"#007a00"}}},
{"data":{"name":"c1"},"mark":{"type":"bar","size":4,"strokeWidth":1,"orient":"vertical"},"encoding":{"y":{"field":"o","type":"quantitative","scale":{"domain":[1.33335,1.356],"nice":false,"zero":false}},"y2":{"field":"c"},"stroke":{"condition":{"test":"datum.o==datum.c","value":"#32e632"},"value":"#007a00"},"color":{"condition":{"test":"datum.c>datum.o","value":"#006b5e"},"value":"#ffffff"}}},
{"data":{"name":"ma1g"},"mark":{"type":"line","color":"#2e8b57","strokeWidth":1.2}},
{"data":{"name":"ma1r"},"mark":{"type":"line","color":"#ff0000","strokeWidth":1}},
{"data":{"name":"zz1"},"mark":{"type":"line","color":"#ffa500","strokeWidth":2.2},"encoding":{"detail":{"field":"s"}}},
{"data":{"values":[{"i":-0.05,"i2":229.29,"p":1.34442,"n":"orange"},{"i":-0.05,"i2":229.29,"p":1.3371,"n":"white"}]},"mark":{"type":"rule","strokeWidth":1.5},"encoding":{"x2":{"field":"i2"},"stroke":{"field":"n","type":"nominal","legend":null,"scale":{"domain":["orange","green","white"],"range":["#ffa500","#0a7a0a","#ffffff"]}}}},
{"data":{"values":[{"i":-0.05,"i2":229.29,"p":1.34156}]},"mark":{"type":"rule","color":"#0a7a0a","strokeWidth":1},"encoding":{"x2":{"field":"i2"}}},
{"data":{"values":[{"i":-0.05,"i2":233.9,"p":1.35598}]},"mark":{"type":"rule","color":"#ffffff","strokeWidth":2},"encoding":{"x2":{"field":"i2"}}},
{"data":{"values":[{"i":0.26,"p":1.34442},{"i":229,"p":1.34442}]},"mark":{"type":"point","shape":"square","size":16,"filled":true,"fill":"#ffffff","stroke":"#ffa500","strokeWidth":1.5,"opacity":1}},
{"data":{"values":[{"i":0.26,"p":1.34156},{"i":229,"p":1.34156}]},"mark":{"type":"point","shape":"square","size":16,"filled":true,"fill":"#ffffff","stroke":"#0a7a0a","strokeWidth":1.5,"opacity":1}},
{"data":{"values":[{"i":138.3,"p":1.35584}]},"mark":{"type":"point","shape":"diamond","size":60,"filled":true,"color":"#d99a20","opacity":0.85}},
{"data":{"values":[{"i":0.65,"p":1.35547}]},"mark":{"type":"point","shape":"triangle-down","size":22,"filled":true,"color":"#c0c0c0","opacity":1}},
{"data":{"values":[{"i":1.79,"p":1.35539,"t":"GBP"},{"i":14.74,"p":1.35539,"t":"1.33938 1.33898 1.33899"}]},"mark":{"type":"text","font":"Liberation Sans","fontSize":9.3,"align":"left","baseline":"middle","color":"#c0c0c0"},"encoding":{"text":{"field":"t"}}},
{"data":{"values":[{"i":0.01,"i2":3.86,"p":1.33412,"p2":1.33341,"n":"btn"},{"i":4.11,"i2":5.84,"p":1.33412,"p2":1.33341,"n":"btn"},{"i":5.99,"i2":21.79,"p":1.33412,"p2":1.33341,"n":"field"}]},"mark":{"type":"rect"},"encoding":{"x2":{"field":"i2"},"y2":{"field":"p2"},"fill":{"field":"n","type":"nominal","legend":null,"scale":{"domain":["btn","field","white","orange","gray","green"],"range":["#c8c8c8","#ffffff","#ffffff","#ffa500","#c0c0c0","#007000"]}}}},
{"data":{"values":[{"i":1.89,"p":1.33376,"t":"CR1"},{"i":4.85,"p":1.33376,"t":"R"}]},"mark":{"type":"text","font":"Liberation Sans","fontSize":10,"align":"center","baseline":"middle","color":"#333333"},"encoding":{"text":{"field":"t"}}},
{"data":{"values":[{"i":6.49,"p":1.33376,"t":"2025.09.03 00:00"}]},"mark":{"type":"text","font":"DejaVu Sans Mono","fontSize":11.5,"align":"left","baseline":"middle","color":"#000000"},"encoding":{"text":{"field":"t"}}},
{"data":{"values":[{"i":229.5,"i2":233.9,"p":1.34476,"p2":1.34416,"n":"orange"},{"i":229.5,"i2":233.9,"p":1.34189,"p2":1.34132,"n":"green"},{"i":229.5,"i2":233.9,"p":1.33925,"p2":1.33869,"n":"gray"},{"i":229.5,"i2":233.9,"p":1.33737,"p2":1.33687,"n":"white"}]},"mark":{"type":"rect"},"encoding":{"x2":{"field":"i2"},"y2":{"field":"p2"},"fill":{"field":"n","type":"nominal","legend":null,"scale":{"domain":["btn","field","white","orange","gray","green"],"range":["#c8c8c8","#ffffff","#ffffff","#ffa500","#c0c0c0","#007000"]}}}},
{"data":{"values":[{"i":230.06,"p":1.34442,"t":"1.3444"},{"i":230.06,"p":1.33897,"t":"1.3389"},{"i":230.06,"p":1.3371,"t":"1.3370"}]},"mark":{"type":"text","font":"Liberation Sans","fontSize":10,"align":"left","baseline":"middle","color":"#222222"},"encoding":{"text":{"field":"t"}}},
{"data":{"values":[{"i":230.06,"p":1.34156,"t":"1.3415"}]},"mark":{"type":"text","font":"Liberation Sans","fontSize":10,"align":"left","baseline":"middle","color":"#d0e0d0"},"encoding":{"text":{"field":"t"}}},
{"data":{"values":[{"i":227.6,"p":1.35358,"t":"１時間　緑"}]},"mark":{"type":"text","font":"Noto Sans CJK JP","fontSize":32,"align":"right","baseline":"middle","color":"#067006"},"encoding":{"text":{"field":"t"}}},
{"data":{"values":[{"i":9.2,"p":1.35802}]},"mark":{"type":"point","shape":"circle","size":14400,"filled":true,"color":"#5f9bdc","opacity":1}},
{"data":{"values":[{"i":9.2,"p":1.35802}]},"mark":{"type":"point","shape":"circle","size":12769,"filled":true,"color":"#ffffff","opacity":1}},
{"data":{"values":[{"i":9.16,"p":1.36076},{"i":12.35,"p":1.36039},{"i":14.69,"p":1.35939},{"i":15.54,"p":1.35802},{"i":14.69,"p":1.35664},{"i":12.35,"p":1.35564},{"i":9.16,"p":1.35527},{"i":5.98,"p":1.35564},{"i":3.64,"p":1.35664},{"i":2.79,"p":1.35802},{"i":3.64,"p":1.35939},{"i":5.98,"p":1.36039}]},"mark":{"type":"point","shape":"circle","size":9,"filled":true,"color":"#444444","opacity":1}},
{"data":{"values":[{"i":9.29,"p":1.36021,"t":"12"},{"i":11.83,"p":1.35994,"t":"1"},{"i":13.85,"p":1.35916,"t":"2"},{"i":14.59,"p":1.35799,"t":"3"},{"i":13.79,"p":1.35691,"t":"4"},{"i":11.83,"p":1.35605,"t":"5"},{"i":9.2,"p":1.35575,"t":"6"},{"i":6.59,"p":1.35605,"t":"7"},{"i":4.6,"p":1.35691,"t":"8"},{"i":3.86,"p":1.35799,"t":"9"},{"i":4.85,"p":1.35906,"t":"10"},{"i":6.64,"p":1.35987,"t":"11"}]},"mark":{"type":"text","font":"Liberation Sans","fontSize":13,"fontWeight":"bold","align":"center","baseline":"middle","color":"#1a6fd8"},"encoding":{"text":{"field":"t"}}},
{"data":{"values":[{"i":9.35,"p":1.35632,"t":"AM"}]},"mark":{"type":"text","font":"Liberation Serif","fontSize":9,"align":"center","baseline":"middle","color":"#666666"},"encoding":{"text":{"field":"t"}}},
{"data":{"values":[{"i":9.29,"p":1.35815},{"i":5.35,"p":1.35561}]},"mark":{"type":"line","color":"#e03030","strokeWidth":1}},
{"data":{"values":[{"i":9.01,"p":1.35831},{"i":10.89,"p":1.35643}]},"mark":{"type":"line","color":"#444444","strokeWidth":2.5}},
{"data":{"values":[{"i":9.01,"p":1.35815},{"i":14.25,"p":1.35967}]},"mark":{"type":"line","color":"#000000","strokeWidth":2}}
]}
]}
